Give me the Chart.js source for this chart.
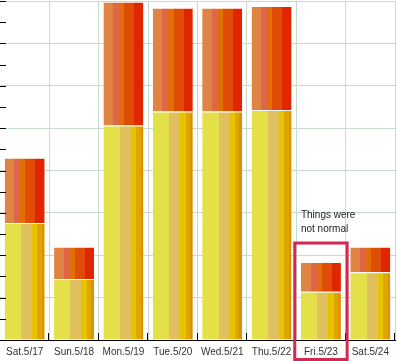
<!DOCTYPE html>
<html>
<head>
<meta charset="utf-8">
<script src="https://cdn.jsdelivr.net/npm/chart.js@4"></script>
<style>
  html, body { margin: 0; padding: 0; background: #fff; }
  canvas { display: block; }
</style>
</head>
<body>
<canvas id="chart" width="397" height="361"></canvas>
<script>
// DATA
const days = ['Sat.5/17', 'Sun.5/18', 'Mon.5/19', 'Tue.5/20', 'Wed.5/21', 'Thu.5/22', 'Fri.5/23', 'Sat.5/24']
const baseValues = [27.6, 14.4, 50.6, 53.9, 53.9, 54.3, 11.4, 16.0]
const extraValues = [15.4, 7.6, 29.2, 24.5, 24.5, 24.5, 7.0, 6.0]
const noteDay = 'Fri.5/23'
const noteLines = ['Things were', 'not normal']

// STYLE
const yellowStripes = [['#e4e04a', 0.41], ['#e0c05c', 0.27], ['#e8c400', 0.14], ['#e0a600', 0.11], ['#dc9200', 0.07]]
const orangeStripes = [['#e08444', 0.24], ['#e0664a', 0.15], ['#e07006', 0.13], ['#e04c06', 0.25], ['#e02600', 0.23]]
const gridColor = '#c6dacd'
const barPct = 0.81
const font = '"Liberation Sans", Arial, sans-serif'

// hard-stop horizontal gradient across one bar, placed by the x scale
const stripeFill = (stripes) => (ctx) => {
    const chart = ctx.chart
    const xs = chart.scales.x
    if (!chart.chartArea || !xs) return stripes[0][0]
    const center = xs.getPixelForValue(ctx.dataIndex)
    const half = xs.width / days.length * barPct / 2
    const g = chart.ctx.createLinearGradient(center - half, 0, center + half, 0)
    let pos = 0
    stripes.forEach(([c, w]) => {
        g.addColorStop(Math.min(pos, 1), c)
        pos += w
        g.addColorStop(Math.min(pos, 1), c)
    })
    return g
}

// inward tick marks + note box
const extras = {
    id: 'extras',
    afterDraw(chart) {
        const { ctx, chartArea: a, scales: { x, y } } = chart
        ctx.save()
        ctx.strokeStyle = '#000'
        ctx.lineWidth = 1
        ctx.beginPath()
        y.ticks.forEach((t, i) => {
            const py = Math.round(y.getPixelForTick(i)) + 0.5
            ctx.moveTo(a.left, py); ctx.lineTo(a.left + 6, py)
        })
        const step = x.width / days.length
        for (let i = 1; i <= days.length; i++) {
            const px = Math.round(a.left + step * i) - 0.5
            ctx.moveTo(px, a.bottom); ctx.lineTo(px, a.bottom - 7)
        }
        ctx.stroke()

        // note box round the unusual day
        const idx = days.indexOf(noteDay)
        const cx = x.getPixelForValue(idx)
        const top = y.getPixelForValue(baseValues[idx] + extraValues[idx]) - 19
        ctx.strokeStyle = '#d42850'
        ctx.lineWidth = 3
        ctx.strokeRect(cx - step / 2 - 1.5, top, step + 3, a.bottom + 19.5 - top)

        ctx.fillStyle = '#222'
        ctx.font = '10px ' + font
        ctx.textBaseline = 'alphabetic'
        const tx = cx - step * barPct / 2
        noteLines.forEach((line, i) => ctx.fillText(line, tx, top - 25 + i * 14))
        ctx.restore()
    }
}

new Chart(document.getElementById('chart').getContext('2d'), {
    type: 'bar',
    data: {
        labels: days,
        datasets: [
            {
                label: 'base', data: baseValues,
                backgroundColor: stripeFill(yellowStripes),
                borderColor: 'rgba(255,255,255,0.45)', borderWidth: { top: 1, left: 0, right: 0, bottom: 0 },
                borderSkipped: false
            },
            {
                label: 'extra', data: extraValues,
                backgroundColor: stripeFill(orangeStripes),
                borderColor: 'rgba(255,255,255,0.45)', borderWidth: { top: 1, left: 0, right: 0, bottom: 0 },
                borderSkipped: false
            },
        ]
    },
    options: {
        responsive: false,
        animation: false,
        devicePixelRatio: 1,
        layout: { padding: { top: 1, right: 2, left: 0, bottom: 3 } },
        barPercentage: barPct,
        categoryPercentage: 1,
        plugins: { legend: { display: false }, tooltip: { enabled: false } },
        scales: {
            x: {
                stacked: true,
                afterFit: (s) => { s.height = 18 },
                grid: {
                    offset: true,
                    drawTicks: false,
                    color: (c) => c.index === 0 ? 'rgba(0,0,0,0)' : gridColor
                },
                border: { display: true, color: '#000', width: 1 },
                ticks: { color: '#333', font: { family: font, size: 10 }, padding: 6, maxRotation: 0, autoSkip: false }
            },
            y: {
                stacked: true,
                min: 0, max: 80,
                grid: {
                    drawTicks: false,
                    color: (c) => c.tick && c.tick.value % 10 === 0 ? gridColor : 'rgba(0,0,0,0)'
                },
                border: { display: false },
                ticks: { display: false, stepSize: 5 }
            }
        }
    },
    plugins: [extras]
})
</script>
</body>
</html>
